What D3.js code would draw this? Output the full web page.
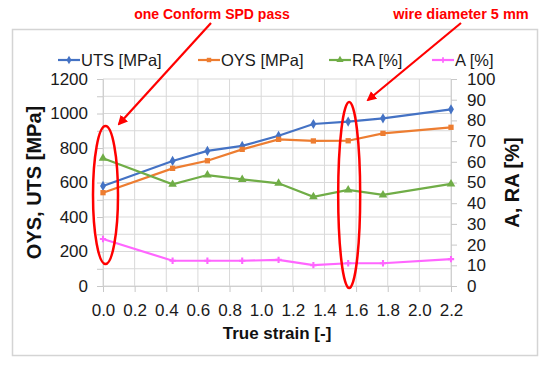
<!DOCTYPE html>
<html><head><meta charset="utf-8">
<script src="https://cdn.jsdelivr.net/npm/d3@7"></script>
<style>body{margin:0;background:#fff}svg{display:block}text{font-family:"Liberation Sans",Arial,sans-serif}</style>
</head><body>
<svg id="c" width="550" height="368"></svg>
<script>
const strain = [0.0, 0.44, 0.66, 0.88, 1.11, 1.33, 1.55, 1.77, 2.2];
const uts = [580, 725, 783, 812, 871, 939, 953, 972, 1024];
const oys = [541, 682, 726, 792, 850, 841, 842, 885, 920];
const ra = [61.7, 49.1, 53.6, 51.5, 49.6, 43.1, 46.4, 44.0, 49.3];
const aEl = [22.7, 12.2, 12.2, 12.2, 12.6, 10.1, 11.0, 11.0, 13.0];
const xTicks = [0, 0.2, 0.4, 0.6, 0.8, 1.0, 1.2, 1.4, 1.6, 1.8, 2.0, 2.2];
const leftTicks = [0, 200, 400, 600, 800, 1000, 1200];
const rightTicks = [0, 10, 20, 30, 40, 50, 60, 70, 80, 90, 100];
const seriesNames = ["UTS [MPa]", "OYS [MPa]", "RA [%]", "A [%]"];

const svg = d3.select("#c");
const L = 103, R = 451, T = 79, B = 286;
const x = d3.scaleLinear().domain([0, 2.2]).range([L, R]);
const yL = d3.scaleLinear().domain([0, 1200]).range([B, T]);
const yR = d3.scaleLinear().domain([0, 100]).range([B, T]);

// outer border
svg.append("rect").attr("x", 12.5).attr("y", 29.5).attr("width", 525).attr("height", 326)
  .attr("fill", "none").attr("stroke", "#d4d4d4").attr("stroke-width", 1.5);

const grid = svg.append("g").attr("stroke", "#d9d9d9").attr("stroke-width", 1);
d3.range(0, 1201, 100).forEach(v => grid.append("line").attr("x1", L).attr("x2", R).attr("y1", yL(v)).attr("y2", yL(v)));
xTicks.forEach(v => grid.append("line").attr("x1", x(v)).attr("x2", x(v)).attr("y1", T).attr("y2", B));

const fs = "17px";
const gx = svg.append("g").attr("transform", `translate(0,${B})`)
  .call(d3.axisBottom(x).tickValues(xTicks).tickFormat(d3.format(".1f")).tickSize(6).tickPadding(12));
const gl = svg.append("g").attr("transform", `translate(${L},0)`)
  .call(d3.axisLeft(yL).tickValues(d3.range(0, 1201, 100)).tickFormat(d => leftTicks.includes(d) ? d : "").tickSize(6).tickPadding(9));
const gr = svg.append("g").attr("transform", `translate(${R},0)`)
  .call(d3.axisRight(yR).tickValues(rightTicks).tickSize(6).tickPadding(10));
[gx, gl, gr].forEach(g => {
  g.select(".domain").attr("stroke", "#d0d0d0");
  g.selectAll(".tick line").attr("stroke", "#c8c8c8");
  g.selectAll("text").attr("font-size", fs).attr("fill", "#1a1a1a").style("font-family", "Liberation Sans, Arial, sans-serif");
});

const colors = ["#4472C4", "#ED7D31", "#70AD47", "#FF66FF"];
const syms = [d3.symbolDiamond, d3.symbolSquare, d3.symbolTriangle, d3.symbolCross];
const symSize = [30, 28, 32, 22];
const data = [
  {v: uts, y: yL}, {v: oys, y: yL}, {v: ra, y: yR}, {v: aEl, y: yR}
];
data.forEach((s, i) => {
  const pts = strain.map((d, j) => [x(d), s.y(s.v[j])]);
  svg.append("path").attr("d", d3.line()(pts)).attr("fill", "none")
    .attr("stroke", colors[i]).attr("stroke-width", 2.2);
  pts.forEach(p => svg.append("path").attr("d", d3.symbol(syms[i], symSize[i])())
    .attr("transform", `translate(${p[0]},${p[1]})`).attr("fill", colors[i]));
});

// legend
const legX = [58, 198, 329, 432];
seriesNames.forEach((n, i) => {
  const g = svg.append("g").attr("transform", `translate(${legX[i]},60)`);
  g.append("line").attr("x1", 0).attr("x2", 22).attr("stroke", colors[i]).attr("stroke-width", 2.2);
  g.append("path").attr("d", d3.symbol(syms[i], symSize[i] * 0.7)()).attr("transform", "translate(11,0)").attr("fill", colors[i]);
  g.append("text").attr("x", 23).attr("y", 5.5).attr("font-size", "16.5px").attr("fill", "#1a1a1a").text(n);
});

// axis titles
svg.append("text").attr("transform", `translate(41,${(T + B) / 2}) rotate(-90)`).attr("text-anchor", "middle")
  .attr("font-size", "20px").attr("font-weight", "bold").attr("fill", "#111").text("OYS, UTS [MPa]");
svg.append("text").attr("transform", `translate(519,${(T + B) / 2}) rotate(-90)`).attr("text-anchor", "middle")
  .attr("font-size", "20px").attr("font-weight", "bold").attr("fill", "#111").text("A, RA [%]");
svg.append("text").attr("x", (L + R) / 2).attr("y", 339).attr("text-anchor", "middle")
  .attr("font-size", "17px").attr("font-weight", "bold").attr("fill", "#111").text("True strain [-]");

// annotations
const red = "#FF0000";
svg.append("defs").append("marker").attr("id", "ah").attr("viewBox", "0 0 10 10").attr("refX", 8).attr("refY", 5)
  .attr("markerWidth", 4.5).attr("markerHeight", 4.5).attr("orient", "auto")
  .append("path").attr("d", "M0,0 L10,5 L0,10 z").attr("fill", red);
svg.append("text").attr("x", 212).attr("y", 19).attr("text-anchor", "middle").attr("font-size", "14px")
  .attr("font-weight", "bold").attr("fill", red).text("one Conform SPD pass");
svg.append("text").attr("x", 461).attr("y", 19).attr("text-anchor", "middle").attr("font-size", "14.5px")
  .attr("font-weight", "bold").attr("fill", red).text("wire diameter 5 mm");
svg.append("line").attr("x1", 211).attr("y1", 23).attr("x2", 119).attr("y2", 124)
  .attr("stroke", red).attr("stroke-width", 2.2).attr("marker-end", "url(#ah)");
svg.append("line").attr("x1", 461).attr("y1", 23).attr("x2", 368).attr("y2", 100)
  .attr("stroke", red).attr("stroke-width", 2.2).attr("marker-end", "url(#ah)");
svg.append("ellipse").attr("cx", x(0) + 2.5).attr("cy", 195).attr("rx", 12.5).attr("ry", 69)
  .attr("fill", "none").attr("stroke", red).attr("stroke-width", 2.5);
svg.append("ellipse").attr("cx", x(1.55) + 1).attr("cy", 195).attr("rx", 11).attr("ry", 93)
  .attr("fill", "none").attr("stroke", red).attr("stroke-width", 2.5);
</script>
</body></html>
